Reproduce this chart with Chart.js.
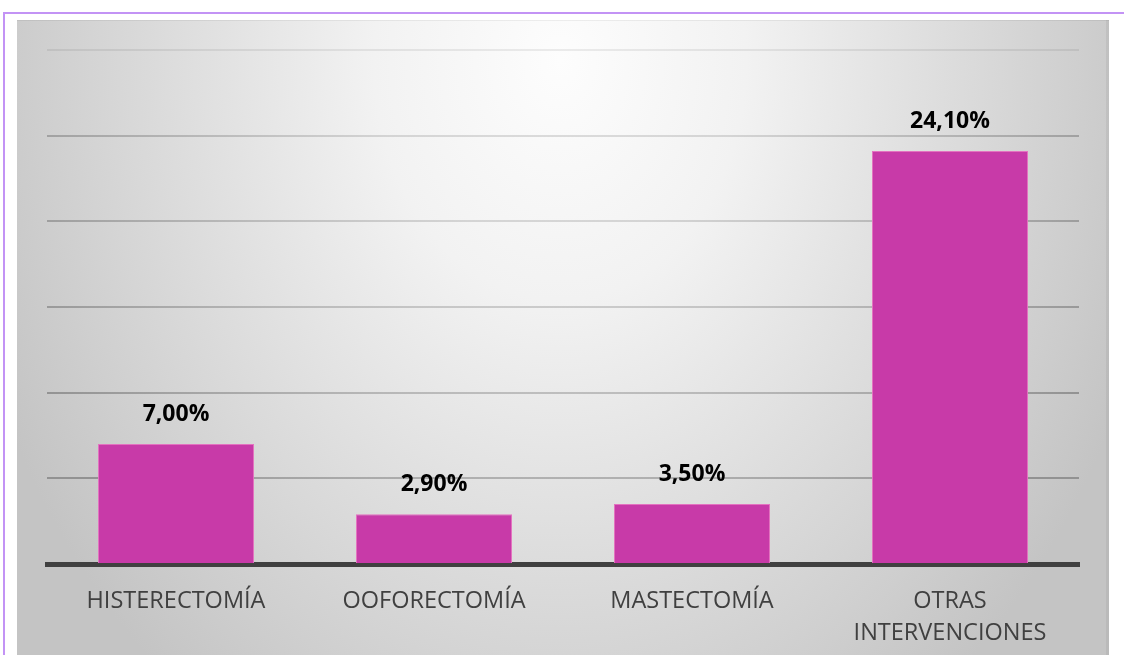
<!DOCTYPE html>
<html lang="es">
<head>
<meta charset="utf-8">
<title>Intervenciones quirúrgicas</title>
<script src="https://cdn.jsdelivr.net/npm/chart.js@4/dist/chart.umd.min.js"></script>
<style>
  html, body { margin: 0; padding: 0; background: #ffffff; overflow: hidden; }
  #wrap { position: relative; width: 1124px; height: 655px; }
</style>
</head>
<body>
<div id="wrap"><canvas id="chart"></canvas></div>
<script>
// Categorías y porcentajes
const categories = ['HISTERECTOMÍA', 'OOFORECTOMÍA', 'MASTECTOMÍA', ['OTRAS', 'INTERVENCIONES']];
const percentages = [7.00, 2.90, 3.50, 24.10];
const yTicks = [0, 5, 10, 15, 20, 25, 30];

const FONT = '"Open Sans", "DejaVu Sans", sans-serif';

// Fondo: marco lila y panel gris con degradado radial
const panelBackground = {
  id: 'panelBackground',
  beforeDraw(chart) {
    const ctx = chart.ctx;
    const W = chart.width, H = chart.height;
    ctx.save();
    ctx.fillStyle = '#ffffff';
    ctx.fillRect(0, 0, W, H);

    const px = 17, py = 20, pw = 1109 - 17, ph = H - 20;
    const cx = 560, cy = 60, rx = 620, ry = 800;
    ctx.save();
    ctx.beginPath();
    ctx.rect(px, py, pw, ph);
    ctx.clip();
    ctx.translate(cx, cy);
    ctx.scale(1, ry / rx);
    const g = ctx.createRadialGradient(0, 0, 0, 0, 0, rx);
    g.addColorStop(0, '#fdfdfd');
    g.addColorStop(0.3, '#f2f2f2');
    g.addColorStop(1, '#c4c4c4');
    ctx.fillStyle = g;
    ctx.fillRect(-cx, -cy * rx / ry - 10, W + 20, (H + 20) * rx / ry + 20);
    ctx.restore();

    // borde superior del panel
    ctx.fillStyle = 'rgba(0,0,0,0.06)';
    ctx.fillRect(px, py, pw, 1);
    // sombra del borde derecho
    ctx.fillStyle = 'rgba(0,0,0,0.05)';
    ctx.fillRect(px + pw - 3, py, 3, ph);

    // marco lila
    ctx.strokeStyle = '#c393f5';
    ctx.lineWidth = 2;
    ctx.beginPath();
    ctx.moveTo(4, H);
    ctx.lineTo(4, 13);
    ctx.lineTo(W, 13);
    ctx.stroke();
    ctx.restore();
  }
};

// Etiquetas de valor sobre cada barra
const valueLabels = {
  id: 'valueLabels',
  afterDatasetsDraw(chart) {
    const ctx = chart.ctx;
    const meta = chart.getDatasetMeta(0);
    const data = chart.data.datasets[0].data;
    ctx.save();
    ctx.font = 'bold 23px ' + FONT;
    ctx.fillStyle = '#000000';
    ctx.textAlign = 'center';
    ctx.textBaseline = 'middle';
    meta.data.forEach((bar, i) => {
      const txt = data[i].toFixed(2).replace('.', ',') + '%';
      ctx.fillText(txt, bar.x, bar.y - 30);
    });
    ctx.restore();
  }
};

let gridGradient = null;
function gridColor(context) {
  if (context.tick && context.tick.value === 30) return 'rgba(0,0,0,0.07)';
  const ctx = context.chart.ctx;
  if (!gridGradient) {
    gridGradient = ctx.createRadialGradient(560, 60, 0, 560, 60, 620);
    gridGradient.addColorStop(0, '#dedede');
    gridGradient.addColorStop(0.3, '#d4d4d4');
    gridGradient.addColorStop(1, '#929292');
  }
  return gridGradient;
}

new Chart(document.getElementById('chart'), {
  type: 'bar',
  data: {
    labels: categories,
    datasets: [{
      data: percentages,
      backgroundColor: '#c83aa8',
      borderColor: '#e472c0',
      borderWidth: 1,
      borderSkipped: 'bottom',
      categoryPercentage: 1,
      barPercentage: 0.605
    }]
  },
  options: {
    responsive: true,
    maintainAspectRatio: false,
    animation: false,
    layout: { padding: { left: 47, right: 45, top: 50, bottom: 0 } },
    plugins: {
      legend: { display: false },
      tooltip: { enabled: false }
    },
    scales: {
      x: {
        grid: { display: false, drawTicks: false },
        border: { display: true, color: '#404040', width: 5 },
        ticks: {
          color: '#404040',
          font: { family: FONT, size: 23.5, lineHeight: 1.36 },
          padding: 21,
          maxRotation: 0,
          autoSkip: false
        },
        afterFit(scale) { scale.height = 91; }
      },
      y: {
        min: 0,
        max: 30,
        afterBuildTicks(scale) { scale.ticks = yTicks.map(v => ({ value: v })); },
        grid: { color: gridColor, lineWidth: 2, drawTicks: false },
        border: { display: false },
        ticks: { display: false },
        afterFit(scale) { scale.width = 0; }
      }
    }
  },
  plugins: [panelBackground, valueLabels]
});
</script>
</body>
</html>
